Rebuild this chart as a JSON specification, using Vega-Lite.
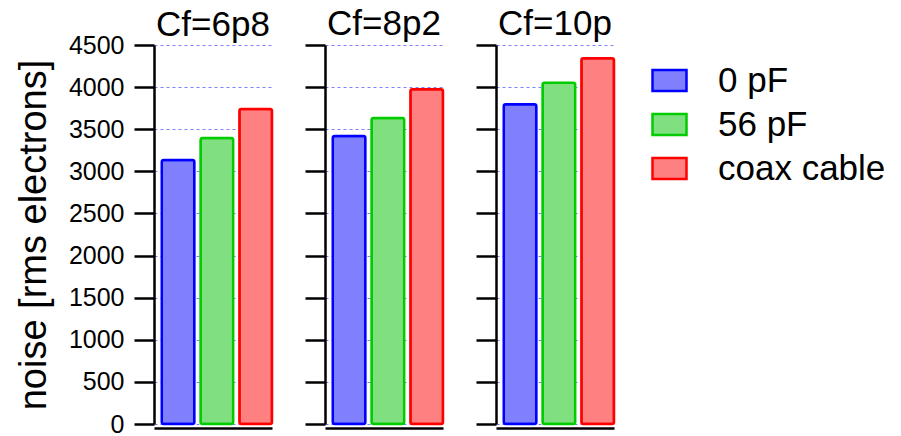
{
  "$schema": "https://vega.github.io/schema/vega-lite/v6.json",
  "background": "white",
  "padding": {"left": 15, "top": 6, "right": 5, "bottom": 0},
  "data": {"values": [
    {"cf": "6p8", "cond": "0 pF", "noise": 3134},
    {"cf": "6p8", "cond": "56 pF", "noise": 3396},
    {"cf": "6p8", "cond": "coax cable", "noise": 3740},
    {"cf": "8p2", "cond": "0 pF", "noise": 3420},
    {"cf": "8p2", "cond": "56 pF", "noise": 3633},
    {"cf": "8p2", "cond": "coax cable", "noise": 3974},
    {"cf": "10p", "cond": "0 pF", "noise": 3796},
    {"cf": "10p", "cond": "56 pF", "noise": 4052},
    {"cf": "10p", "cond": "coax cable", "noise": 4342}
  ]},
  "config": {
    "font": "Liberation Sans",
    "view": {"stroke": null},
    "axis": {"domainColor": "black", "domainWidth": 2.5, "tickColor": "black", "tickWidth": 2.5, "labelColor": "black", "titleColor": "black"},
    "title": {"fontSize": 35, "fontWeight": "normal", "color": "black", "offset": 2, "anchor": "middle"},
    "concat": {"spacing": 29},
    "legend": {"orient": "none", "legendX": 497, "legendY": 17, "labelFontSize": 35, "labelColor": "black", "labelLimit": 400, "symbolType": "M-1,-0.62L1,-0.62L1,0.62L-1,0.62Z", "symbolSize": 1156, "symbolStrokeWidth": 2.5, "labelOffset": 30, "rowPadding": 7, "symbolOpacity": 1}
  },
  "hconcat": [
    {
      "width": 118, "height": 379,
      "title": {"text": "Cf=6p8", "offset": -10},
      "transform": [{"filter": "datum.cf === '6p8'"}],
      "mark": {"type": "bar", "strokeWidth": 2.5, "cornerRadius": 2},
      "encoding": {
        "x": {"field": "cond", "type": "nominal", "sort": ["0 pF", "56 pF", "coax cable"], "scale": {"paddingInner": 0.16, "paddingOuter": 0.1, "align": 1}, "axis": {"title": null, "labels": false, "ticks": false, "offset": 4}},
        "y": {"field": "noise", "type": "quantitative", "scale": {"domain": [0, 4500], "nice": false}, "axis": {"values": [0, 500, 1000, 1500, 2000, 2500, 3000, 3500, 4000, 4500], "format": "d", "title": "noise [rms electrons]", "titleFontSize": 38, "titleFontWeight": "normal", "titlePadding": 15, "labelFontSize": 25, "tickSize": 20, "labelPadding": 10, "grid": true, "gridColor": "#8080ff", "gridDash": [3, 3], "gridWidth": 1.2}},
        "fill": {"field": "cond", "type": "nominal", "scale": {"domain": ["0 pF", "56 pF", "coax cable"], "range": ["#8080ff", "#80e080", "#ff8080"]}, "legend": {"title": null}},
        "stroke": {"field": "cond", "type": "nominal", "scale": {"domain": ["0 pF", "56 pF", "coax cable"], "range": ["#0000ff", "#00cc00", "#ff0000"]}, "legend": {"title": null}}
      }
    },
    {
      "width": 118, "height": 379,
      "title": "Cf=8p2",
      "transform": [{"filter": "datum.cf === '8p2'"}],
      "mark": {"type": "bar", "strokeWidth": 2.5, "cornerRadius": 2},
      "encoding": {
        "x": {"field": "cond", "type": "nominal", "sort": ["0 pF", "56 pF", "coax cable"], "scale": {"paddingInner": 0.16, "paddingOuter": 0.1, "align": 1}, "axis": {"title": null, "labels": false, "ticks": false, "offset": 4}},
        "y": {"field": "noise", "type": "quantitative", "scale": {"domain": [0, 4500], "nice": false}, "axis": {"values": [0, 500, 1000, 1500, 2000, 2500, 3000, 3500, 4000, 4500], "title": null, "labels": false, "tickSize": 20, "grid": true, "gridColor": "#8080ff", "gridDash": [3, 3], "gridWidth": 1.2}},
        "fill": {"field": "cond", "type": "nominal", "scale": {"domain": ["0 pF", "56 pF", "coax cable"], "range": ["#8080ff", "#80e080", "#ff8080"]}, "legend": {"title": null}},
        "stroke": {"field": "cond", "type": "nominal", "scale": {"domain": ["0 pF", "56 pF", "coax cable"], "range": ["#0000ff", "#00cc00", "#ff0000"]}, "legend": {"title": null}}
      }
    },
    {
      "width": 118, "height": 379,
      "title": "Cf=10p",
      "transform": [{"filter": "datum.cf === '10p'"}],
      "mark": {"type": "bar", "strokeWidth": 2.5, "cornerRadius": 2},
      "encoding": {
        "x": {"field": "cond", "type": "nominal", "sort": ["0 pF", "56 pF", "coax cable"], "scale": {"paddingInner": 0.16, "paddingOuter": 0.1, "align": 1}, "axis": {"title": null, "labels": false, "ticks": false, "offset": 4}},
        "y": {"field": "noise", "type": "quantitative", "scale": {"domain": [0, 4500], "nice": false}, "axis": {"values": [0, 500, 1000, 1500, 2000, 2500, 3000, 3500, 4000, 4500], "title": null, "labels": false, "tickSize": 20, "grid": true, "gridColor": "#8080ff", "gridDash": [3, 3], "gridWidth": 1.2}},
        "fill": {"field": "cond", "type": "nominal", "scale": {"domain": ["0 pF", "56 pF", "coax cable"], "range": ["#8080ff", "#80e080", "#ff8080"]}, "legend": {"title": null}},
        "stroke": {"field": "cond", "type": "nominal", "scale": {"domain": ["0 pF", "56 pF", "coax cable"], "range": ["#0000ff", "#00cc00", "#ff0000"]}, "legend": {"title": null}}
      }
    }
  ]
}
